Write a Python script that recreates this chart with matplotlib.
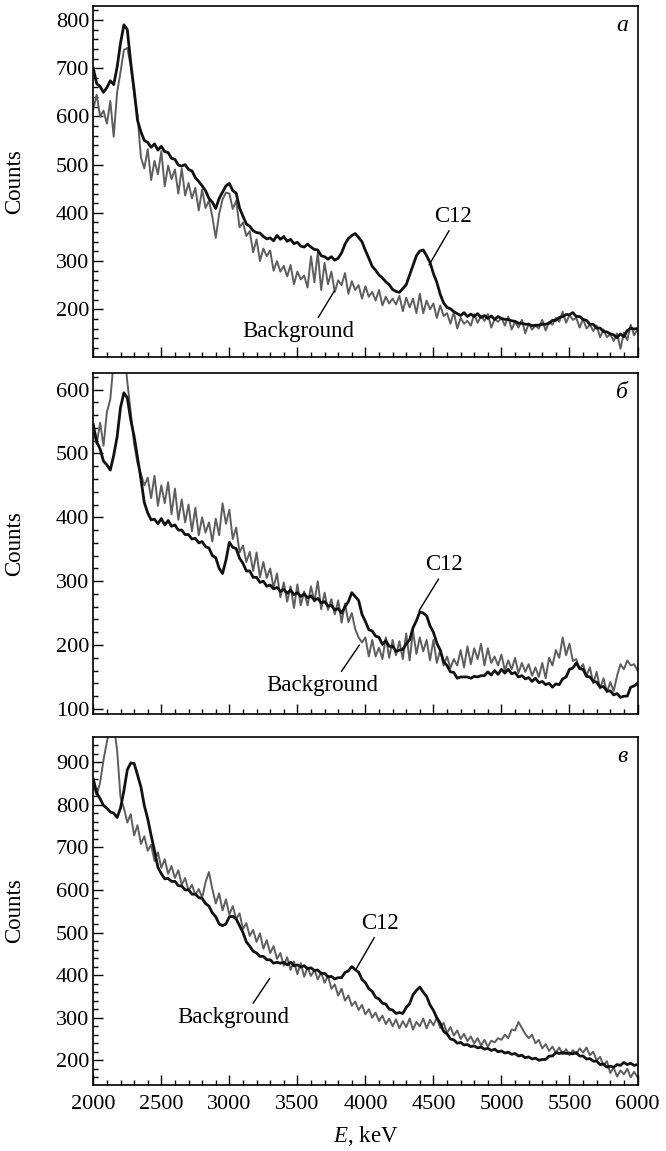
import numpy as np
import matplotlib
matplotlib.use('Agg')
import matplotlib.pyplot as plt
from matplotlib.ticker import MultipleLocator

plt.rcParams['font.family'] = ['Liberation Serif', 'DejaVu Serif']
plt.rcParams['mathtext.fontset'] = 'custom'
plt.rcParams['mathtext.rm'] = 'Liberation Serif'
plt.rcParams['mathtext.it'] = 'Liberation Serif:italic'

# energy bins, keV (25 keV step)
energy = np.arange(2000, 6001, 25)

# panel a
black_a = [700, 668, 662, 650, 660, 674, 666, 702,
           752, 790, 780, 712, 655, 592, 568, 550,
           546, 536, 543, 530, 538, 527, 525, 513,
           511, 499, 497, 500, 490, 487, 473, 465,
           456, 446, 430, 422, 409, 430, 443, 456,
           461, 446, 441, 410, 393, 377, 372, 363,
           359, 358, 351, 346, 348, 342, 353, 345,
           351, 341, 345, 336, 339, 331, 329, 335,
           329, 324, 323, 311, 309, 304, 309, 302,
           306, 317, 335, 347, 353, 357, 349, 340,
           322, 306, 289, 281, 271, 265, 257, 251,
           241, 237, 235, 243, 251, 271, 291, 311,
           321, 323, 311, 297, 274, 256, 231, 213,
           204, 201, 195, 191, 187, 193, 185, 190,
           185, 191, 183, 187, 181, 186, 179, 185,
           181, 179, 179, 176, 175, 171, 171, 169,
           169, 166, 167, 167, 169, 169, 171, 177,
           177, 183, 185, 189, 189, 193, 185, 185,
           179, 177, 169, 169, 161, 161, 154, 153,
           149, 147, 141, 149, 143, 156, 161, 159,
           160]
gray_a = [615, 645, 600, 612, 585, 632, 558, 650,
          692, 738, 742, 705, 648, 602, 515, 492,
          532, 468, 508, 480, 528, 455, 498, 470,
          490, 440, 492, 436, 462, 430, 452, 405,
          448, 410, 425, 392, 348, 398, 428, 442,
          440, 408, 425, 370, 380, 352, 362, 318,
          345, 300, 326, 310, 322, 280, 300, 278,
          290, 268, 292, 252, 278, 262, 270, 245,
          310, 256, 318, 240, 296, 252, 278, 236,
          260, 250, 275, 232, 258, 240, 250, 222,
          248, 226, 236, 218, 240, 208, 226, 212,
          222, 210, 228, 196, 224, 204, 222, 192,
          232, 192, 218, 200, 212, 182, 208, 186,
          192, 170, 194, 160, 182, 170, 176, 166,
          190, 172, 186, 176, 190, 162, 180, 174,
          182, 166, 185, 158, 174, 162, 178, 150,
          170, 158, 166, 160, 178, 156, 174, 168,
          182, 174, 195, 172, 188, 178, 182, 162,
          180, 160, 168, 155, 166, 142, 158, 142,
          148, 134, 150, 118, 152, 136, 168, 146,
          158]

# panel b
black_b = [545, 518, 507, 488, 482, 474, 497, 526,
           572, 595, 587, 553, 527, 493, 460, 423,
           407, 396, 397, 390, 398, 388, 395, 386,
           388, 380, 380, 373, 373, 366, 367, 360,
           362, 354, 352, 340, 337, 320, 312, 333,
           361, 353, 351, 336, 328, 316, 316, 306,
           306, 298, 300, 292, 294, 288, 290, 284,
           287, 281, 286, 279, 282, 276, 280, 274,
           277, 270, 273, 266, 268, 261, 262, 255,
           257, 250, 260, 268, 282, 276, 270, 248,
           237, 224, 222, 214, 212, 201, 207, 198,
           198, 190, 192, 193, 202, 208, 227, 238,
           252, 250, 246, 230, 220, 203, 192, 174,
           168, 158, 157, 148, 150, 150, 150, 148,
           151, 150, 152, 152, 158, 153, 160, 154,
           162, 156, 162, 155, 157, 150, 152, 147,
           149, 143, 148, 141, 143, 138, 140, 134,
           139, 138, 147, 150, 162, 164, 172, 163,
           162, 151, 150, 143, 142, 134, 135, 128,
           128, 122, 124, 118, 120, 120, 134, 136,
           140]
gray_b = [535, 515, 548, 512, 565, 585, 645, 665,
          682, 668, 612, 565, 515, 485, 468, 450,
          462, 430, 465, 418, 450, 422, 455, 405,
          445, 396, 428, 392, 420, 378, 415, 372,
          400, 376, 392, 362, 398, 372, 422, 390,
          412, 366, 384, 345, 356, 330, 346, 316,
          345, 306, 330, 305, 320, 290, 312, 275,
          298, 268, 292, 258, 295, 262, 284, 262,
          292, 268, 300, 256, 282, 255, 272, 248,
          270, 235, 265, 236, 250, 225, 212, 204,
          212, 182, 208, 182, 196, 178, 212, 180,
          208, 184, 206, 178, 218, 176, 222, 186,
          212, 190, 208, 176, 208, 172, 192, 168,
          182, 164, 178, 168, 192, 165, 198, 170,
          195, 178, 202, 168, 195, 172, 182, 168,
          185, 160, 176, 162, 180, 156, 172, 158,
          170, 152, 165, 150, 172, 148, 180, 168,
          192, 180, 212, 184, 202, 175, 178, 162,
          170, 152, 165, 140, 158, 132, 148, 126,
          142, 128, 152, 170, 162, 176, 168, 170,
          160]

# panel c
black_c = [860, 828, 814, 798, 792, 783, 780, 770,
           792, 833, 882, 898, 897, 870, 842, 798,
           767, 728, 692, 653, 638, 626, 627, 620,
           620, 610, 609, 600, 600, 590, 590, 582,
           580, 568, 562, 546, 537, 520, 516, 520,
           537, 538, 532, 516, 500, 478, 468, 456,
           452, 444, 444, 436, 436, 428, 430, 428,
           430, 424, 430, 422, 424, 419, 422, 415,
           417, 411, 412, 404, 404, 396, 397, 391,
           394, 394, 406, 410, 420, 413, 407, 390,
           382, 368, 362, 348, 344, 334, 332, 320,
           318, 310, 312, 310, 324, 333, 354, 364,
           372, 360, 350, 330, 317, 300, 287, 268,
           262, 250, 248, 240, 242, 236, 237, 232,
           234, 229, 231, 226, 228, 223, 226, 220,
           222, 217, 219, 214, 216, 210, 212, 206,
           208, 203, 205, 200, 202, 202, 210, 210,
           218, 216, 218, 216, 217, 215, 218, 210,
           210, 203, 204, 198, 198, 190, 191, 184,
           186, 184, 190, 188, 195, 190, 193, 188,
           190]
gray_c = [845, 822, 852, 905, 948, 985, 990, 928,
          818, 792, 758, 778, 728, 752, 708, 726,
          692, 706, 668, 688, 652, 672, 638, 656,
          628, 646, 612, 628, 598, 612, 588, 602,
          582, 618, 642, 602, 568, 592, 552, 578,
          542, 562, 532, 545, 508, 522, 492, 506,
          478, 498, 462, 482, 452, 468, 438, 452,
          422, 442, 412, 432, 402, 428, 396, 418,
          398, 412, 390, 406, 382, 398, 368, 378,
          352, 368, 340, 352, 328, 338, 318, 330,
          308, 320, 300, 312, 292, 305, 285, 298,
          280, 296, 275, 292, 278, 298, 272, 290,
          280, 298, 275, 295, 282, 300, 276, 288,
          264, 278, 258, 270, 250, 262, 245, 256,
          240, 252, 235, 248, 232, 246, 242, 252,
          248, 260, 252, 272, 270, 290, 276, 262,
          252, 260, 240, 248, 228, 238, 222, 232,
          218, 230, 214, 226, 212, 224, 214, 228,
          218, 230, 212, 220, 200, 208, 188, 198,
          170, 183, 162, 176, 167, 180, 160, 173,
          160]

panels = [
    dict(black=black_a, gray=gray_a, ylim=(101, 829), letter='a',
         c12=((4468, 292), (4646, 393), (0.45, 0.0)),
         bg=((3772, 238), (3504, 153), (0.66, 1.0))),
    dict(black=black_b, gray=gray_b, ylim=(92, 626), letter='б',
         c12=((4395, 254), (4578, 326), (0.42, 0.0)),
         bg=((3956, 200), (3680, 136), (0.65, 1.0))),
    dict(black=black_c, gray=gray_c, ylim=(142, 959), letter='в',
         c12=((3931, 414), (4110, 522), (0.40, 0.0)),
         bg=((3296, 392), (3032, 300), (0.65, 1.0))),
]

fig = plt.figure(figsize=(6.66, 11.51), dpi=100)
left, width = 93.3 / 666, (637.5 - 93.3) / 666
boxes = [(6, 357), (373, 714), (737, 1085)]

for k, (p, (top, bot)) in enumerate(zip(panels, boxes)):
    ax = fig.add_axes([left, 1 - bot / 1151, width, (bot - top) / 1151])
    ax.plot(energy, p['gray'], color='#5e5e5e', lw=1.4, zorder=2)
    ax.plot(energy, p['black'], color='#111111', lw=2.0, zorder=3)
    ax.set_xlim(2000, 6000)
    ax.set_ylim(*p['ylim'])
    ax.xaxis.set_major_locator(MultipleLocator(500))
    ax.xaxis.set_minor_locator(MultipleLocator(100))
    ax.yaxis.set_major_locator(MultipleLocator(100))
    ax.yaxis.set_minor_locator(MultipleLocator(20))
    ax.tick_params(which='both', direction='in', top=False, right=False,
                   labelsize=16, width=1.0)
    ax.tick_params(which='major', length=7, pad=3)
    ax.tick_params(which='minor', length=3.5)
    ax.tick_params(axis='x', pad=7)
    for s in ax.spines.values():
        s.set_linewidth(1.2)
    ax.set_ylabel('Counts', fontsize=16.5)
    ax.yaxis.set_label_coords(-0.126, 0.5)
    if k < 2:
        ax.tick_params(labelbottom=False)
    else:
        ax.set_xlabel(r'$E$, keV', fontsize=16.5)
        ax.xaxis.set_label_coords(0.5, -0.112)

    ax.text(0.982, 0.975, p['letter'], transform=ax.transAxes, ha='right', va='top',
            fontsize=17, style='italic')

    for key, label in (('c12', 'C12'), ('bg', 'Background')):
        xy, xytext, rel = p[key]
        ax.annotate(label, xy=xy, xytext=xytext, textcoords='data', ha='center',
                    va='center', fontsize=16.5, zorder=5,
                    arrowprops=dict(arrowstyle='-', color='black', lw=1.0,
                                    shrinkA=1, shrinkB=0, relpos=rel))

fig.savefig('out.png', dpi=100)
